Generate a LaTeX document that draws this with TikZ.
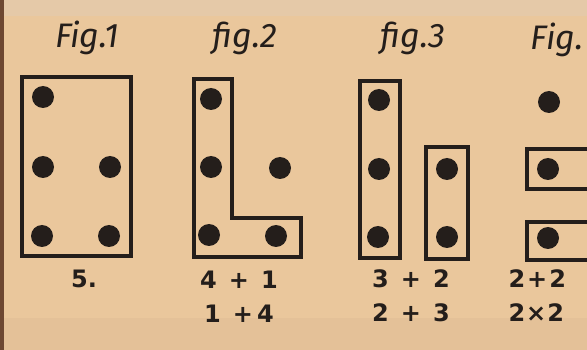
\documentclass[tikz,border=0pt]{standalone}
\usepackage{fontspec}
\setmainfont{DejaVu Sans}
\newfontfamily\handfont{Fira Sans}
\usetikzlibrary{positioning}
\definecolor{paper}{RGB}{234,199,156}
\definecolor{papertop}{RGB}{229,201,168}
\definecolor{paperlow}{RGB}{228,193,152}
\definecolor{spine}{RGB}{110,72,50}
\definecolor{ink}{RGB}{36,30,27}

\begin{document}
\begin{tikzpicture}[x=1pt,y=-1pt,
  box/.style={draw=ink, line width=3.2pt},
  dot/.style={circle, fill=ink, inner sep=0pt, minimum size=22pt},
  fig/.style={font=\handfont\itshape\fontsize{34}{34}\selectfont, text=ink},
  sum/.style={font=\bfseries\fontsize{24}{24}\selectfont, text=ink}]
  % page
  \useasboundingbox (0,0) rectangle (587,350);
  \fill[paper] (0,0) rectangle (587,350);
  \fill[papertop] (0,0) rectangle (587,16);
  \fill[paperlow] (0,318) rectangle (587,350);
  \fill[spine] (0,0) rectangle (4,350);

  % fig. 1
  \node[fig] (t1) at (87,38) {Fig.1};
  \draw[box] (22,77) rectangle (131,256);
  \node[dot] (a1) at (43,97) {};
  \node[dot] (a2) at (43,167) {};
  \node[dot] (a3) at (42,236) {};
  \node[dot] (a4) at (110,167) {};
  \node[dot] (a5) at (109,236) {};
  \node[sum] (s1) at (84,279) {5.};

  % fig. 2
  \node[fig] (t2) at (245,38) {fig.2};
  \draw[box] (194,79) -- (232,79) -- (232,218) -- (301,218) -- (301,257) -- (194,257) -- cycle;
  \node[dot] (b1) at (211,99) {};
  \node[dot] (b2) at (211,167) {};
  \node[dot] (b3) at (209,235) {};
  \node[dot] (b4) at (280,168) {};
  \node[dot] (b5) at (276,236) {};
  \node[sum] (s2) at (239,280) {4\hspace{12pt}+\hspace{12pt}1};
  \node[sum] (s2b) at (239,314) {1\hspace{12pt}+\hspace{4pt}4};

  % fig. 3
  \node[fig] (t3) at (413,38) {fig.3};
  \draw[box] (360,81) rectangle (400,258);
  \draw[box] (426,147) rectangle (468,259);
  \node[dot] (c1) at (379,100) {};
  \node[dot] (c2) at (379,169) {};
  \node[dot] (c3) at (378,237) {};
  \node[dot] (c4) at (447,169) {};
  \node[dot] (c5) at (447,237) {};
  \node[sum] (s3) at (411,279) {3\hspace{12pt}+\hspace{12pt}2};
  \node[sum] (s3b) at (411,313) {2\hspace{12pt}+\hspace{12pt}3};

  % fig. 4
  \node[fig, anchor=east] (t4) at (587,40) {Fig.};
  \draw[box] (620,149) -- (527,149) -- (527,189) -- (620,189);
  \draw[box] (620,222) -- (527,222) -- (527,260) -- (620,260);
  \node[dot] (d1) at (549,102) {};
  \node[dot] (d2) at (548,169) {};
  \node[dot] (d3) at (548,238) {};
  \node[sum, anchor=west] (s4) at (505,279) {2\hspace{2pt}+\hspace{2pt}2};
  \node[sum, anchor=west] (s4b) at (505,313) {2\hspace{1pt}×\hspace{1pt}2};
\end{tikzpicture}
\end{document}
